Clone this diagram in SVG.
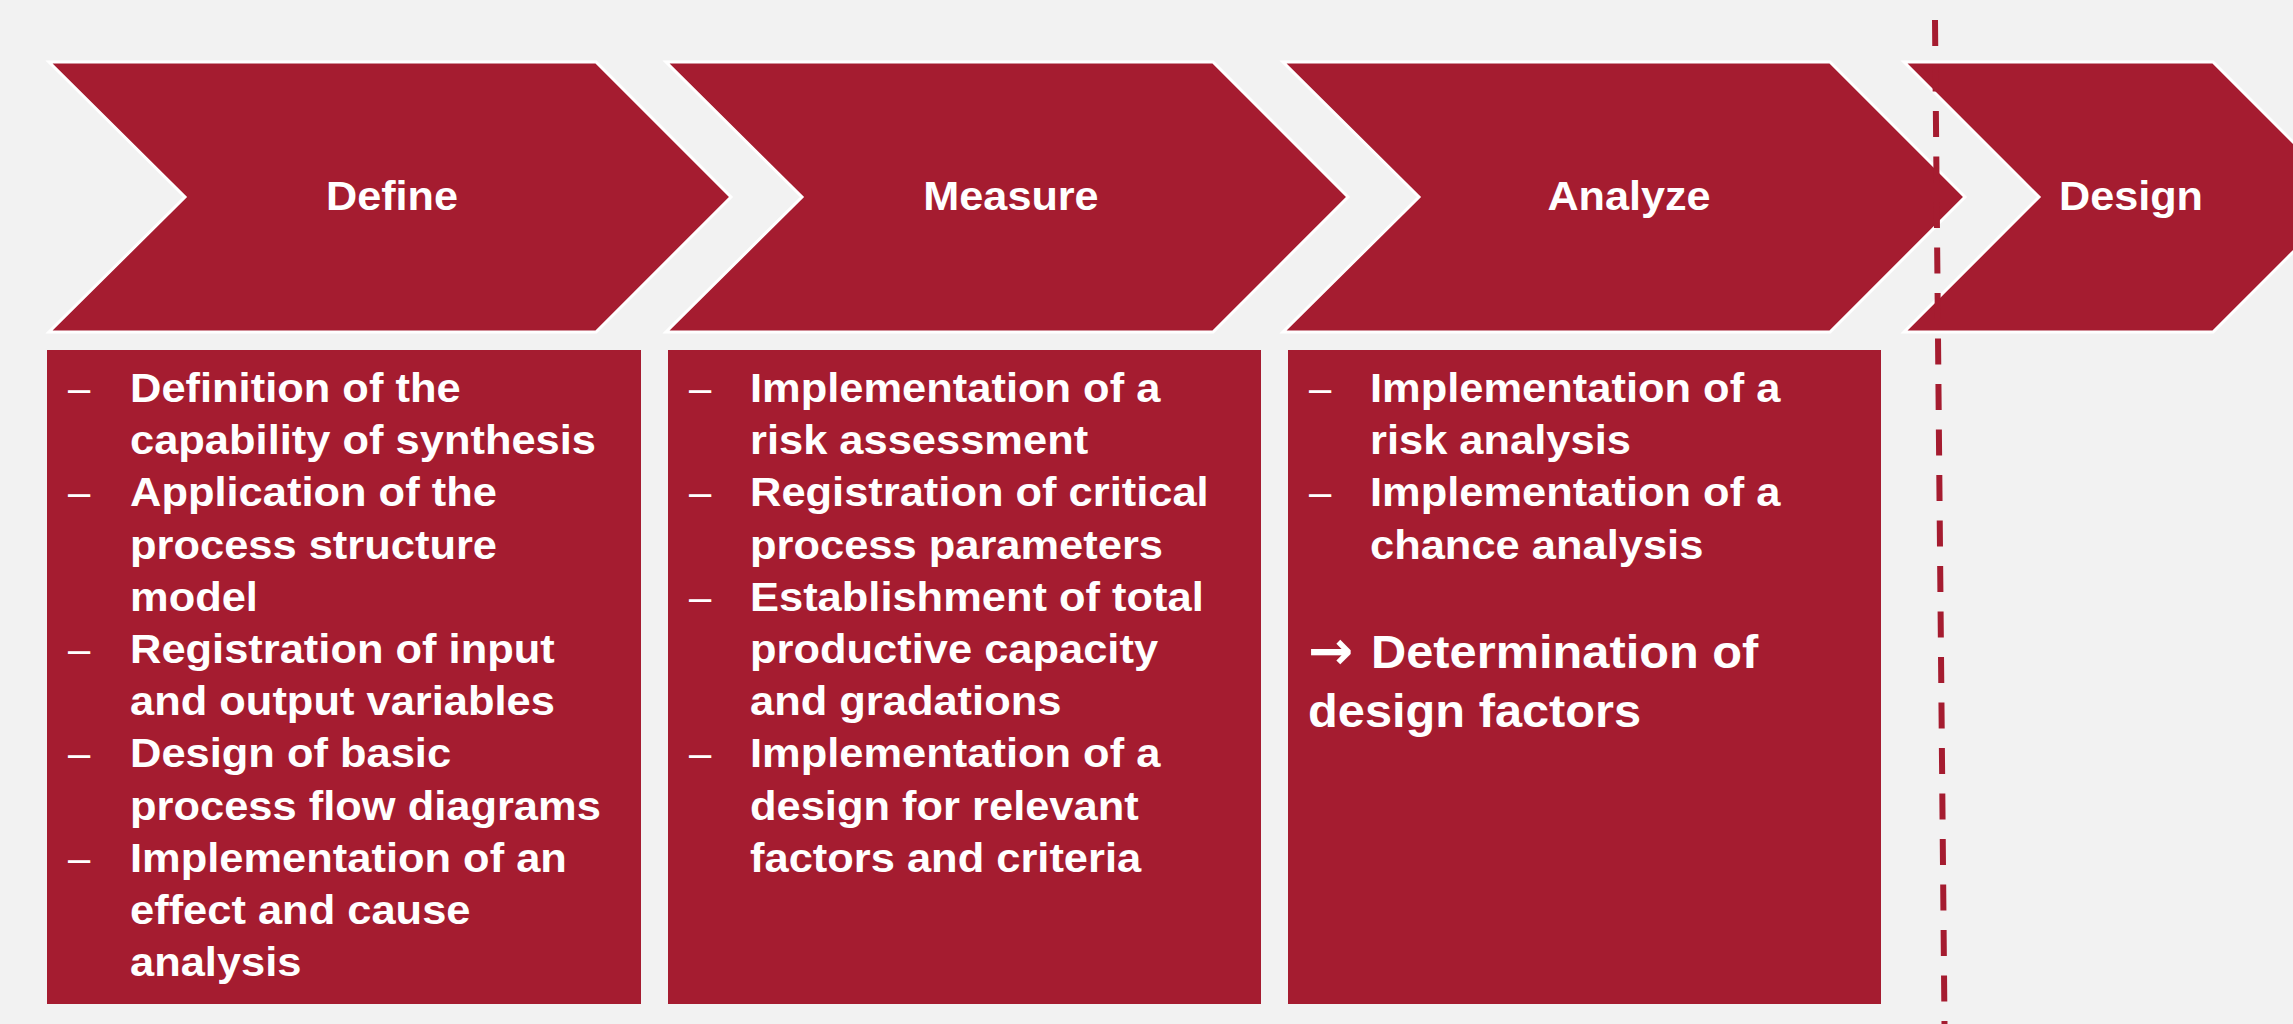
<svg xmlns="http://www.w3.org/2000/svg" width="2293" height="1024" viewBox="0 0 2293 1024">
<style>
.bg{fill:#f2f2f2}
.chev{fill:#a51c30;stroke:#ffffff;stroke-width:3;stroke-linejoin:miter}
.box{fill:#a51c30}
.title{font-family:"Liberation Sans",Arial,sans-serif;font-weight:bold;font-size:40px;fill:#ffffff;text-anchor:middle}
.body{font-family:"Liberation Sans",Arial,sans-serif;font-weight:bold;font-size:41px;fill:#ffffff}
.dash{font-family:"Liberation Sans",Arial,sans-serif;font-weight:normal;font-size:40px;fill:#ffffff}
.big{font-family:"Liberation Sans",Arial,sans-serif;font-weight:bold;font-size:46px;fill:#ffffff}
.arrow{font-family:"DejaVu Sans",sans-serif;font-weight:bold;font-size:54px;fill:#ffffff}
.divider{stroke:#a51c30;stroke-width:6;stroke-dasharray:26 19.5;fill:none}
</style>
<rect class="bg" x="0" y="0" width="2293" height="1024"/>

<g id="chevron-define">
<polygon class="chev" points="49,62 596,62 731,197 596,332 49,332 185,197"/>
<text class="title" transform="translate(392 210) scale(1.08 1)" x="0" y="0">Define</text>
</g>
<g id="chevron-measure">
<polygon class="chev" points="666,62 1213,62 1348,197 1213,332 666,332 802,197"/>
<text class="title" transform="translate(1011 210) scale(1.08 1)" x="0" y="0">Measure</text>
</g>
<g id="chevron-analyze">
<polygon class="chev" points="1283,62 1830,62 1965,197 1830,332 1283,332 1419,197"/>
<text class="title" transform="translate(1629 210) scale(1.08 1)" x="0" y="0">Analyze</text>
</g>
<g id="chevron-design">
<polygon class="chev" points="1904,62 2213,62 2348,197 2213,332 1904,332 2039,197"/>
<text class="title" transform="translate(2131 210) scale(1.08 1)" x="0" y="0">Design</text>
</g>

<g id="box-define">
<rect class="box" x="47" y="350" width="594" height="654"/>
<text class="dash"><tspan x="68" y="402">–</tspan><tspan x="68" y="506">–</tspan><tspan x="68" y="663">–</tspan><tspan x="68" y="767">–</tspan><tspan x="68" y="872">–</tspan></text>
<text class="body" transform="translate(130 0) scale(1.06 1)">
<tspan x="0" y="402">Definition of the</tspan>
<tspan x="0" y="454">capability of synthesis</tspan>
<tspan x="0" y="506">Application of the</tspan>
<tspan x="0" y="559">process structure</tspan>
<tspan x="0" y="611">model</tspan>
<tspan x="0" y="663">Registration of input</tspan>
<tspan x="0" y="715">and output variables</tspan>
<tspan x="0" y="767">Design of basic</tspan>
<tspan x="0" y="820">process flow diagrams</tspan>
<tspan x="0" y="872">Implementation of an</tspan>
<tspan x="0" y="924">effect and cause</tspan>
<tspan x="0" y="976">analysis</tspan>
</text>
</g>

<g id="box-measure">
<rect class="box" x="668" y="350" width="593" height="654"/>
<text class="dash"><tspan x="689" y="402">–</tspan><tspan x="689" y="506">–</tspan><tspan x="689" y="611">–</tspan><tspan x="689" y="767">–</tspan></text>
<text class="body" transform="translate(750 0) scale(1.06 1)">
<tspan x="0" y="402">Implementation of a</tspan>
<tspan x="0" y="454">risk assessment</tspan>
<tspan x="0" y="506">Registration of critical</tspan>
<tspan x="0" y="559">process parameters</tspan>
<tspan x="0" y="611">Establishment of total</tspan>
<tspan x="0" y="663">productive capacity</tspan>
<tspan x="0" y="715">and gradations</tspan>
<tspan x="0" y="767">Implementation of a</tspan>
<tspan x="0" y="820">design for relevant</tspan>
<tspan x="0" y="872">factors and criteria</tspan>
</text>
</g>

<g id="box-analyze">
<rect class="box" x="1288" y="350" width="593" height="654"/>
<text class="dash"><tspan x="1309" y="402">–</tspan><tspan x="1309" y="506">–</tspan></text>
<text class="body" transform="translate(1370 0) scale(1.06 1)">
<tspan x="0" y="402">Implementation of a</tspan>
<tspan x="0" y="454">risk analysis</tspan>
<tspan x="0" y="506">Implementation of a</tspan>
<tspan x="0" y="559">chance analysis</tspan>
</text>
<text class="arrow" x="1308" y="669">→</text>
<text class="big" transform="translate(1371 668) scale(1.06 1)" x="0" y="0">Determination of</text>
<text class="big" transform="translate(1308 727) scale(1.06 1)" x="0" y="0">design factors</text>
</g>

<g id="connectors">
<line class="divider" x1="1935" y1="20" x2="1944.5" y2="1024"/>
</g>
</svg>
